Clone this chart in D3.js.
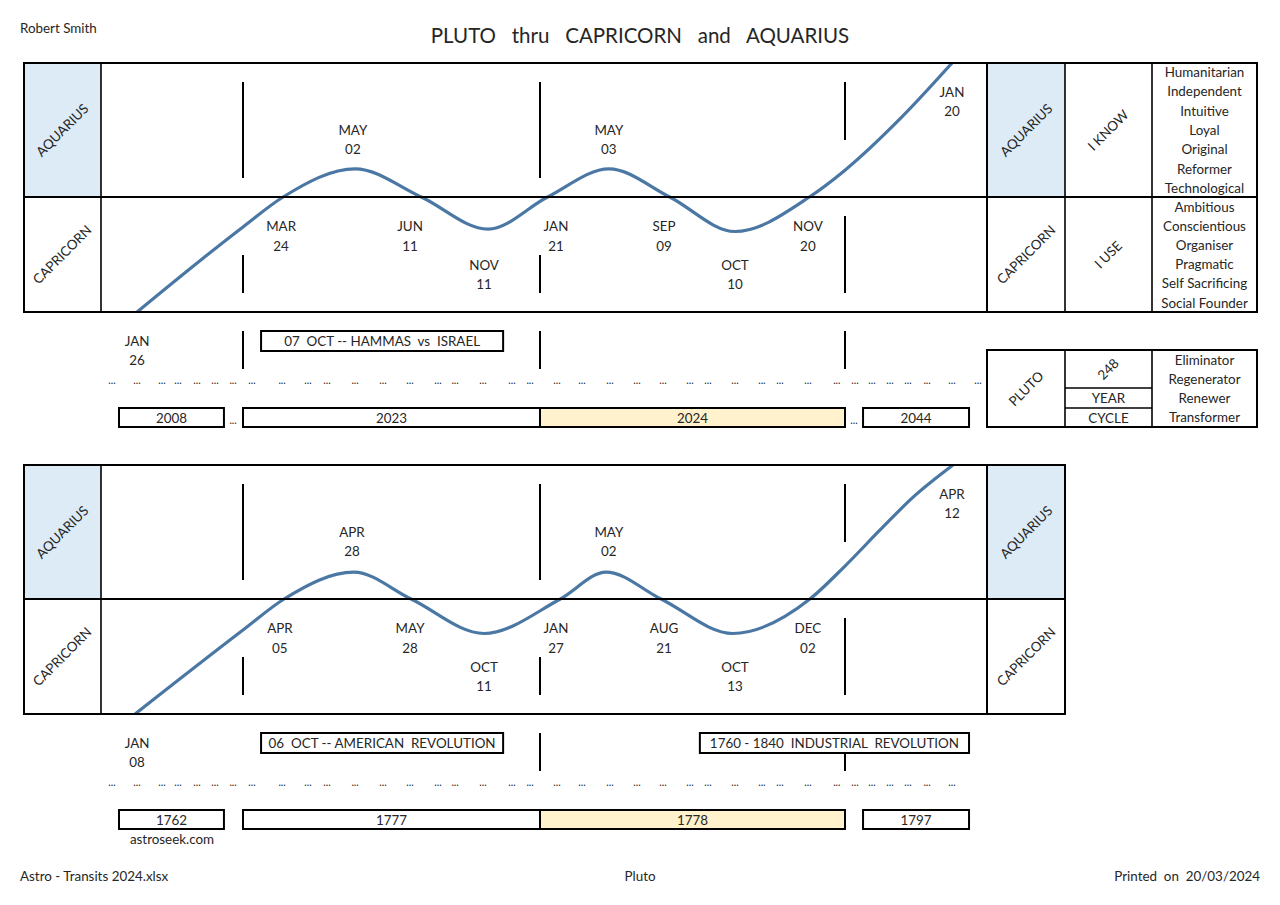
<!DOCTYPE html>
<html><head><meta charset="utf-8">
<script src="https://cdn.jsdelivr.net/npm/d3@7/dist/d3.min.js"></script>
<style>
body{margin:0;background:#fff;}
svg text{font-family:Lato,"Open Sans",sans-serif;fill:#262626;}
.pre{white-space:pre;}
</style></head><body>
<svg id="c" width="1280" height="905"></svg>
<script>
// ---------------- DATA ----------------
const signs = ["AQUARIUS", "CAPRICORN"];
const title = "PLUTO   thru   CAPRICORN   and   AQUARIUS";
const author = "Robert Smith";
const footerLeft = "Astro - Transits 2024.xlsx";
const footerMid = "Pluto";
const footerRight = "Printed  on  20/03/2024";
const source = "astroseek.com";

// curve: months from January of the first highlighted year; level: 0 = cusp, +1 top of Aquarius row, -1 bottom of Capricorn row
const topCurveMonths = [-4.28, 0, 1.62, 4.53, 7.2, 9.9, 12.3, 14.71, 17.1, 19.67, 22.6, 24, 26.2, 28.21];
const topCurveLevels = [-1, -0.26, 0, 0.21, 0, -0.28, 0, 0.21, 0, -0.30, 0, 0.20, 0.59, 1];
const bottomCurveMonths = [-4.36, 0, 1.66, 4.48, 6.79, 9.74, 12.8, 14.6, 16.76, 19.59, 22.62, 24, 25.38, 26.68, 28.25];
const bottomCurveLevels = [-1, -0.27, 0, 0.20, 0, -0.30, 0, 0.20, 0, -0.30, 0, 0.246, 0.515, 0.76, 1];

// date labels: [month, day, position (months), row]
const topLabels = [
  ["MAY", "02", 4.44, "upper"], ["MAY", "03", 14.71, "upper"], ["JAN", "20", 28.21, "high"],
  ["MAR", "24", 1.54, "low1"], ["JUN", "11", 6.75, "low1"], ["JAN", "21", 12.63, "low1"],
  ["SEP", "09", 16.88, "low1"], ["NOV", "20", 22.54, "low1"],
  ["NOV", "11", 9.74, "low2"], ["OCT", "10", 19.67, "low2"],
  ["JAN", "26", -4.28, "below"]
];
const bottomLabels = [
  ["APR", "28", 4.40, "upper"], ["MAY", "02", 14.71, "upper"], ["APR", "12", 28.21, "high"],
  ["APR", "05", 1.49, "low1"], ["MAY", "28", 6.75, "low1"], ["JAN", "27", 12.63, "low1"],
  ["AUG", "21", 16.88, "low1"], ["DEC", "02", 22.54, "low1"],
  ["OCT", "11", 9.74, "low2"], ["OCT", "13", 19.67, "low2"],
  ["JAN", "08", -4.28, "below"]
];

// year boxes: [label, start month, end month, highlighted]
const topYears = [["2008", -5.01, -0.77, false], ["2023", 0, 12, false], ["2024", 12, 24, true], ["2044", 24.71, 28.88, false]];
const bottomYears = [["1762", -5.01, -0.77, false], ["1777", 0, 12, false], ["1778", 12, 24, true], ["1797", 24.71, 28.88, false]];
const topYearGaps = [-0.40, 24.35];
const bottomYearGaps = [];

// events: [text, start month, end month]
const topEvents = [["07  OCT -- HAMMAS  vs  ISRAEL", 0.73, 10.51]];
const bottomEvents = [["06  OCT -- AMERICAN  REVOLUTION", 0.73, 10.51], ["1760 - 1840  INDUSTRIAL  REVOLUTION", 18.29, 28.88]];

// "..." markers along the timeline (months)
const dotMonths = [-5.29, -4.28, -3.27, -2.63, -1.86, -1.13, -0.40, 0.36, 1.58, 2.63, 3.39, 4.53, 5.66, 6.75, 7.88, 8.57, 9.70, 10.87, 11.60,
  12.67, 13.65, 14.75, 15.82, 16.84, 17.90, 18.61, 19.67, 20.73, 21.44, 22.54, 23.68, 24.39, 25.06, 25.77, 26.48, 27.23, 28.21, 29.23];

const yearMarks = [0, 12, 24];

const aquariusTraits = ["Humanitarian", "Independent", "Intuitive", "Loyal", "Original", "Reformer", "Technological"];
const capricornTraits = ["Ambitious", "Conscientious", "Organiser", "Pragmatic", "Self Sacrificing", "Social Founder"];
const plutoTraits = ["Eliminator", "Regenerator", "Renewer", "Transformer"];
const signVerbs = ["I KNOW", "I USE"];
const planet = "PLUTO";
const cycleYears = "248";
const cycleWords = ["YEAR", "CYCLE"];

// ---------------- DRAW ----------------
const svg = d3.select("#c");
const BLUE = "#DDEBF7", YELLOW = "#FFF2CC", INK = "#000", CURVE = "#4A77A3";
const FS = 13.4;

svg.append("text").attr("x", 20).attr("y", 28).attr("dominant-baseline", "central").attr("font-size", FS).text(author);
svg.append("text").attr("class", "pre").attr("x", 640).attr("y", 35).attr("text-anchor", "middle")
  .attr("dominant-baseline", "central").attr("font-size", 20.5).attr("fill", "#333").text(title);

const x = d3.scaleLinear().domain([0, 12, 24]).range([243, 540, 845]);
const y = d3.scaleLinear().domain([-1, 0, 1]).range([249, 134, 0]);
const rowY = { high: [29, 48], upper: [67, 86], low1: [163, 183], low2: [202, 221], below: [278, 297] };

function rot(g, cx, cy, t, fs) {
  g.append("text").attr("transform", `translate(${cx},${cy}) rotate(-45)`).attr("text-anchor", "middle")
    .attr("dominant-baseline", "central").attr("font-size", fs || FS).text(t);
}
function line(g, x1, y1, x2, y2, w) {
  g.append("line").attr("x1", x1).attr("y1", y1).attr("x2", x2).attr("y2", y2)
    .attr("stroke", INK).attr("stroke-width", w || 2);
}
function ctext(g, cx, cy, t, fs) {
  return g.append("text").attr("x", cx).attr("y", cy).attr("text-anchor", "middle")
    .attr("dominant-baseline", "central").attr("font-size", fs || FS).text(t);
}

function panel(oy, cfg, id) {
  const g = svg.append("g").attr("transform", `translate(0,${oy})`);
  const right = cfg.traits ? 1257 : 1065;
  const mid = y(0), H = y(-1);
  // fills
  g.append("rect").attr("x", 24).attr("y", 0).attr("width", 77).attr("height", mid).attr("fill", BLUE);
  g.append("rect").attr("x", 987).attr("y", 0).attr("width", 78).attr("height", mid).attr("fill", BLUE);

  // sign labels
  rot(g, 62, mid / 2, signs[0]); rot(g, 62, (mid + H) / 2, signs[1]);
  rot(g, 1026, mid / 2, signs[0]); rot(g, 1026, (mid + H) / 2, signs[1]);

  // curve
  g.append("clipPath").attr("id", id).append("rect").attr("x", 101).attr("y", 0).attr("width", 886).attr("height", H);
  const pts = cfg.months.map((m, i) => [m, cfg.levels[i]]);
  g.append("path").attr("clip-path", `url(#${id})`).attr("d",
    d3.line().x(d => x(d[0])).y(d => y(d[1])).curve(d3.curveMonotoneX)(pts))
    .attr("fill", "none").attr("stroke", CURVE).attr("stroke-width", 3.2);

  // year marker segments
  yearMarks.forEach((m, i) => {
    line(g, x(m), 19, x(m), i === 2 ? 77 : 115);
    line(g, x(m), i === 2 ? 153 : 192, x(m), 230);
  });
  cfg.belowMarks.forEach(([m, a, b]) => line(g, x(m), a, x(m), b));

  // date labels
  cfg.labels.forEach(([mo, day, m, row]) => {
    const [a, b] = rowY[row];
    ctext(g, x(m), a, mo); ctext(g, x(m), b, day);
  });

  // events
  cfg.events.forEach(([t, a, b]) => {
    g.append("rect").attr("x", x(a)).attr("y", 268).attr("width", x(b) - x(a)).attr("height", 20)
      .attr("fill", "#fff").attr("stroke", INK).attr("stroke-width", 2);
    ctext(g, (x(a) + x(b)) / 2, 278, t).attr("class", "pre");
  });

  // dots
  cfg.dots.forEach(m => g.append("text").attr("x", x(m)).attr("y", 321).attr("text-anchor", "middle")
    .attr("font-size", 10.5).text("..."));

  // years
  cfg.years.forEach(([t, a, b, hl]) => {
    g.append("rect").attr("x", x(a)).attr("y", 345).attr("width", x(b) - x(a)).attr("height", 19)
      .attr("fill", hl ? YELLOW : "#fff").attr("stroke", INK).attr("stroke-width", 2);
    ctext(g, (x(a) + x(b)) / 2, 354.5, t);
  });
  cfg.gaps.forEach(m => g.append("text").attr("x", x(m)).attr("y", 361).attr("text-anchor", "middle").attr("font-size", 10.5).text("..."));

  // right trait table
  if (cfg.traits) {
    line(g, 1065, 0, 1065, H, 1.6); line(g, 1152, 0, 1152, H, 1.6);
    rot(g, 1108, mid / 2, signVerbs[0]); rot(g, 1108, (mid + H) / 2, signVerbs[1]);
    aquariusTraits.forEach((t, i) => ctext(g, 1204.5, 9 + i * 19.3, t));
    capricornTraits.forEach((t, i) => ctext(g, 1204.5, 144 + i * 19.1, t));
    // pluto box
    const pt = 287, pb = 364;
    g.append("rect").attr("x", 987).attr("y", pt).attr("width", 270).attr("height", pb - pt).attr("fill", "none").attr("stroke", INK).attr("stroke-width", 2);
    line(g, 1065, pt, 1065, pb, 1.6); line(g, 1152, pt, 1152, pb, 1.6);
    line(g, 1065, 325, 1152, 325, 1.6); line(g, 1065, 345, 1152, 345, 1.6);
    rot(g, 1026, (pt + pb) / 2, planet);
    rot(g, 1108, 306, cycleYears);
    ctext(g, 1108.5, 335, cycleWords[0]);
    ctext(g, 1108.5, 354.5, cycleWords[1]);
    plutoTraits.forEach((t, i) => ctext(g, 1204.5, 297 + i * 19, t));
  }

  // borders
  g.append("rect").attr("x", 24).attr("y", 0).attr("width", right - 24).attr("height", H)
    .attr("fill", "none").attr("stroke", INK).attr("stroke-width", 2);
  line(g, 24, mid, right, mid);
  line(g, 101, 0, 101, H, 1.6);
  line(g, 987, 0, 987, H);
  return g;
}

panel(63, {
  months: topCurveMonths, levels: topCurveLevels, labels: topLabels, events: topEvents,
  years: topYears, gaps: topYearGaps, dots: dotMonths, traits: true,
  belowMarks: [[0, 268, 306], [12, 268, 306], [24, 268, 306]]
}, "clipTop");

const gb = panel(465, {
  months: bottomCurveMonths, levels: bottomCurveLevels, labels: bottomLabels, events: bottomEvents,
  years: bottomYears, gaps: bottomYearGaps, dots: dotMonths.slice(0, -1), traits: false,
  belowMarks: [[12, 268, 306], [24, 288, 306]]
}, "clipBot");
ctext(gb, 172, 374, source);

svg.append("text").attr("x", 20).attr("y", 876).attr("dominant-baseline", "central").attr("font-size", FS).text(footerLeft);
ctext(svg, 640, 876, footerMid);
svg.append("text").attr("class", "pre").attr("x", 1260).attr("y", 876).attr("text-anchor", "end").attr("dominant-baseline", "central").attr("font-size", FS).text(footerRight);
</script>
</body></html>
